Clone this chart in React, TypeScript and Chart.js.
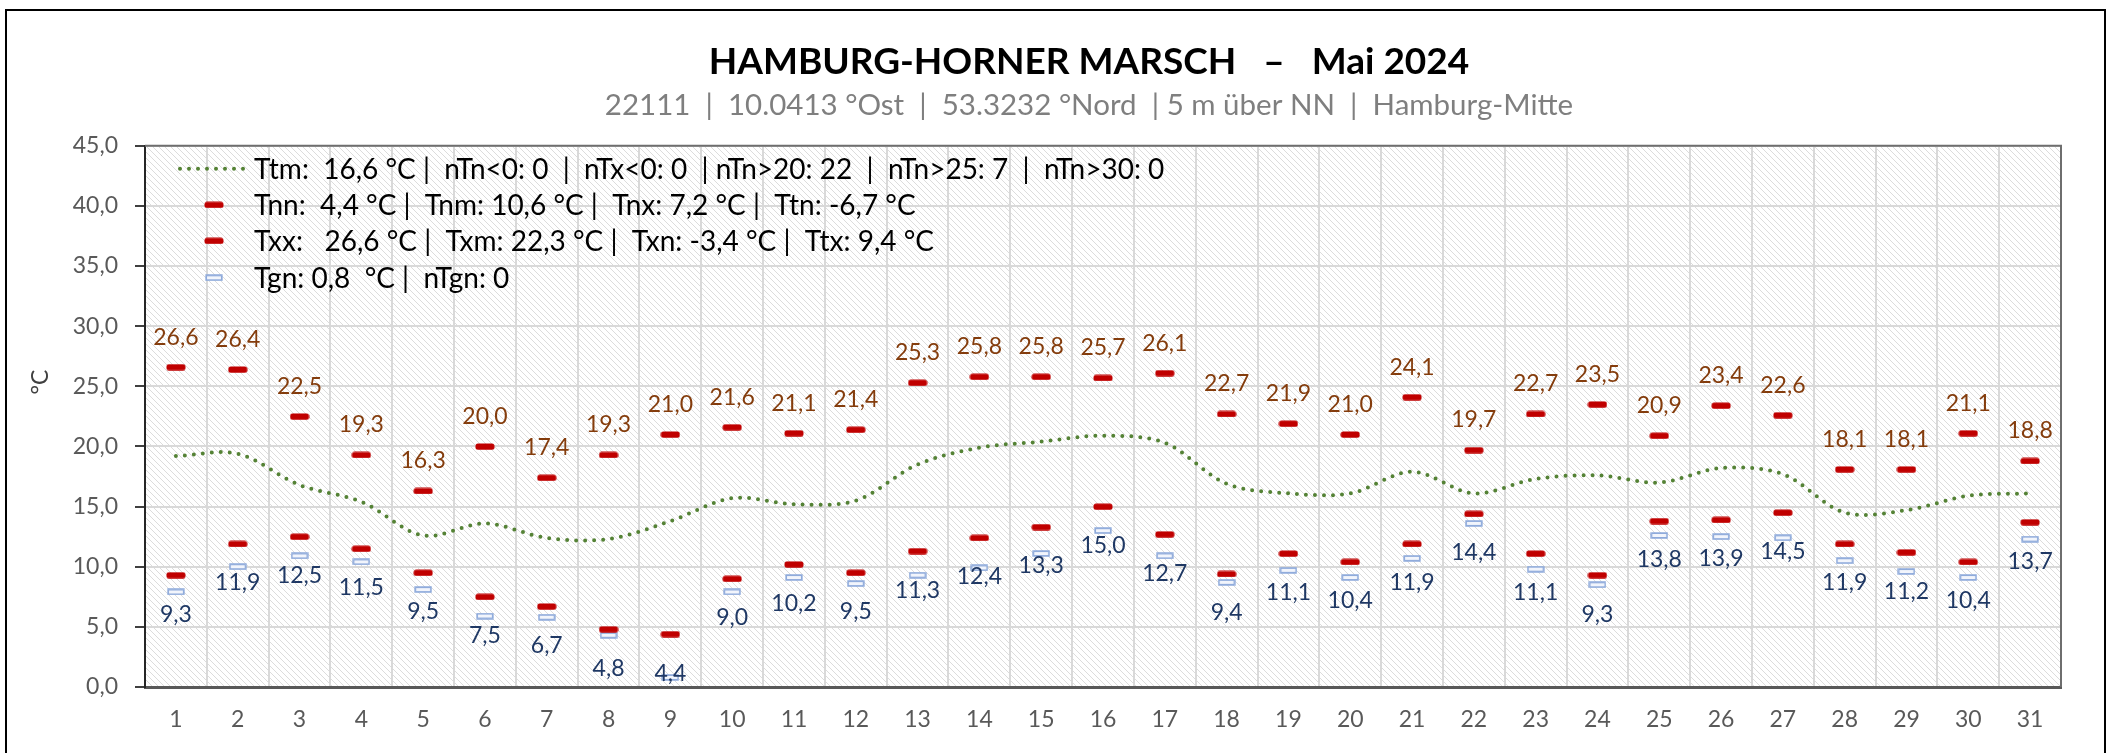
import React, { useEffect, useRef } from 'react';
import { Chart, registerables } from 'chart.js';

Chart.register(...registerables);

const days = ['1', '2', '3', '4', '5', '6', '7', '8', '9', '10', '11', '12', '13', '14', '15', '16', '17', '18', '19', '20', '21', '22', '23', '24', '25', '26', '27', '28', '29', '30', '31'];

// daily mean temperature (Ttm)
const ttm = [19.2, 19.4, 16.8, 15.4, 12.6, 13.6, 12.4, 12.3, 13.8, 15.7, 15.2, 15.5, 18.5, 19.9, 20.4, 20.9, 20.3, 16.9, 16.1, 16.1, 17.9, 16.1, 17.3, 17.6, 17.0, 18.2, 17.7, 14.5, 14.7, 15.9, 16.1];
// daily minimum temperature (Tn)
const tn = [9.3, 11.9, 12.5, 11.5, 9.5, 7.5, 6.7, 4.8, 4.4, 9.0, 10.2, 9.5, 11.3, 12.4, 13.3, 15.0, 12.7, 9.4, 11.1, 10.4, 11.9, 14.4, 11.1, 9.3, 13.8, 13.9, 14.5, 11.9, 11.2, 10.4, 13.7];
// daily maximum temperature (Tx)
const tx = [26.6, 26.4, 22.5, 19.3, 16.3, 20.0, 17.4, 19.3, 21.0, 21.6, 21.1, 21.4, 25.3, 25.8, 25.8, 25.7, 26.1, 22.7, 21.9, 21.0, 24.1, 19.7, 22.7, 23.5, 20.9, 23.4, 22.6, 18.1, 18.1, 21.1, 18.8];
// ground minimum temperature (Tg)
const tg = [7.9, 10.0, 10.9, 10.4, 8.1, 5.9, 5.8, 4.3, 0.8, 7.9, 9.1, 8.6, 9.3, 9.9, 11.1, 13.0, 10.9, 8.7, 9.7, 9.1, 10.7, 13.6, 9.8, 8.5, 12.6, 12.5, 12.4, 10.5, 9.6, 9.1, 12.3];

const yTicks = [0, 5, 10, 15, 20, 25, 30, 35, 40, 45];

const legendLabels = [
  'Ttm:  16,6 °C |  nTn<0: 0  |  nTx<0: 0  | nTn>20: 22  |  nTn>25: 7  |  nTn>30: 0',
  'Tnn:  4,4 °C |  Tnm: 10,6 °C |  Tnx: 7,2 °C |  Ttn: -6,7 °C',
  'Txx:   26,6 °C |  Txm: 22,3 °C |  Txn: -3,4 °C |  Ttx: 9,4 °C',
  'Tgn: 0,8  °C |  nTgn: 0',
];

const titleText = 'HAMBURG-HORNER MARSCH   –   Mai 2024';
const subtitleText = '22111  |  10.0413 °Ost  |  53.3232 °Nord  | 5 m über NN  |  Hamburg-Mitte';
const yUnit = '°C';

const FONT = 'Lato';
const fmt = (v: number) => v.toFixed(1).replace('.', ',');

function makeRedDash(): HTMLCanvasElement {
  const c = document.createElement('canvas');
  c.width = 20;
  c.height = 7;
  const g = c.getContext('2d')!;
  g.fillStyle = '#C00000';
  g.beginPath();
  (g as any).roundRect(0.5, 0.5, 19, 6.2, 2.5);
  g.fill();
  return c;
}

function makeBlueDash(): HTMLCanvasElement {
  const c = document.createElement('canvas');
  c.width = 18;
  c.height = 7;
  const g = c.getContext('2d')!;
  g.fillStyle = '#F2F5FC';
  g.strokeStyle = '#8EAADB';
  g.lineWidth = 1.7;
  g.beginPath();
  g.rect(1.2, 1.2, 15.6, 4.6);
  g.fill();
  g.stroke();
  return c;
}

function makeHatch(ctx: CanvasRenderingContext2D): CanvasPattern | string {
  const s = 6;
  const c = document.createElement('canvas');
  c.width = s;
  c.height = s;
  const g = c.getContext('2d')!;
  g.fillStyle = '#FFFFFF';
  g.fillRect(0, 0, s, s);
  g.strokeStyle = '#DCDCDC';
  g.lineWidth = 1;
  g.beginPath();
  g.moveTo(-1, -1);
  g.lineTo(s + 1, s + 1);
  g.moveTo(-1, s - 1);
  g.lineTo(1, s + 1);
  g.moveTo(s - 1, -1);
  g.lineTo(s + 1, 1);
  g.stroke();
  return ctx.createPattern(c, 'repeat') || '#FFFFFF';
}

export default function App() {
  const ref = useRef<HTMLCanvasElement | null>(null);

  useEffect(() => {
    const canvas = ref.current;
    if (!canvas) return;
    const redDash = makeRedDash();
    const blueDash = makeBlueDash();

    const background = {
      id: 'background',
      beforeDraw(chart: any) {
        const { ctx, chartArea: a } = chart;
        ctx.save();
        ctx.fillStyle = '#FFFFFF';
        ctx.fillRect(0, 0, chart.width, chart.height);
        ctx.fillStyle = makeHatch(ctx);
        ctx.fillRect(a.left, a.top, a.right - a.left, a.bottom - a.top);
        ctx.restore();
      },
    };

    const decorations = {
      id: 'decorations',
      afterDraw(chart: any) {
        const { ctx, chartArea: a } = chart;
        ctx.save();
        // plot area top / right border
        ctx.strokeStyle = '#6E6E6E';
        ctx.lineWidth = 2;
        ctx.beginPath();
        ctx.moveTo(a.left, a.top);
        ctx.lineTo(a.right, a.top);
        ctx.lineTo(a.right, a.bottom);
        ctx.stroke();
        // outer frame
        ctx.strokeStyle = '#000000';
        ctx.lineWidth = 2;
        ctx.strokeRect(6, 10, chart.width - 16, chart.height + 20);
        // y unit
        ctx.translate(41, 382);
        ctx.rotate(-Math.PI / 2);
        ctx.fillStyle = '#404040';
        ctx.font = `23px ${FONT}`;
        ctx.textAlign = 'center';
        ctx.textBaseline = 'middle';
        ctx.fillText(yUnit, 0, 0);
        ctx.restore();
      },
    };

    const dataLabels = {
      id: 'dataLabels',
      afterDatasetsDraw(chart: any) {
        const { ctx } = chart;
        ctx.save();
        ctx.font = `23px ${FONT}`;
        ctx.textAlign = 'center';
        ctx.textBaseline = 'middle';
        const metaTx = chart.getDatasetMeta(2);
        metaTx.data.forEach((pt: any, i: number) => {
          ctx.fillStyle = '#843C0C';
          ctx.fillText(fmt(tx[i]), pt.x, pt.y - 30);
        });
        const metaTn = chart.getDatasetMeta(1);
        metaTn.data.forEach((pt: any, i: number) => {
          ctx.fillStyle = '#1F3864';
          ctx.fillText(fmt(tn[i]), pt.x, pt.y + 39);
        });
        ctx.restore();
      },
    };

    const innerLegend = {
      id: 'innerLegend',
      afterDatasetsDraw(chart: any) {
        const { ctx, chartArea: a } = chart;
        const rows = [a.top + 23, a.top + 59, a.top + 95, a.top + 132];
        const markerX = a.left + 69;
        const textX = a.left + 109;
        ctx.save();
        chart.data.datasets.forEach((ds: any, i: number) => {
          const y = rows[i];
          if (i === 0) {
            ctx.save();
            ctx.strokeStyle = ds.borderColor;
            ctx.lineWidth = ds.borderWidth;
            ctx.lineCap = 'round';
            ctx.setLineDash(ds.borderDash);
            ctx.beginPath();
            ctx.moveTo(a.left + 35, y);
            ctx.lineTo(a.left + 104, y);
            ctx.stroke();
            ctx.restore();
          } else {
            const img = ds.pointStyle as HTMLCanvasElement;
            ctx.drawImage(img, markerX - img.width / 2, y - img.height / 2);
          }
          ctx.fillStyle = '#000000';
          ctx.font = `28px ${FONT}`;
          ctx.textAlign = 'left';
          ctx.textBaseline = 'middle';
          ctx.fillText(ds.label, textX, y + 1);
        });
        ctx.restore();
      },
    };

    const chart = new Chart(canvas, {
      type: 'line',
      data: {
        labels: days,
        datasets: [
          {
            label: legendLabels[0],
            data: ttm,
            borderColor: '#548235',
            borderWidth: 4,
            borderDash: [0, 9],
            borderCapStyle: 'round',
            tension: 0.33,
            pointRadius: 0,
            fill: false,
          },
          {
            label: legendLabels[1],
            data: tn,
            showLine: false,
            pointStyle: redDash,
            pointRadius: 6,
          },
          {
            label: legendLabels[2],
            data: tx,
            showLine: false,
            pointStyle: redDash,
            pointRadius: 6,
          },
          {
            label: legendLabels[3],
            data: tg,
            showLine: false,
            pointStyle: blueDash,
            pointRadius: 6,
          },
        ] as any,
      },
      options: {
        animation: false,
        responsive: false,
        events: [],
        layout: { padding: { top: 10, left: 63, right: 0, bottom: 0 } },
        plugins: {
          legend: { display: false },
          tooltip: { enabled: false },
          title: {
            display: true,
            text: titleText,
            color: '#000000',
            font: { family: FONT, size: 37, weight: 'bold', lineHeight: 1.2 },
            padding: { top: 30, bottom: 0 },
          },
          subtitle: {
            display: true,
            text: subtitleText,
            color: '#7F7F7F',
            font: { family: FONT, size: 29.5, lineHeight: 1.2 },
            padding: { top: 3, bottom: 23 },
          },
        },
        scales: {
          x: {
            type: 'category',
            offset: true,
            grid: { offset: true, color: '#D9D9D9', lineWidth: 2, drawTicks: false },
            border: { color: '#595959', width: 3 },
            ticks: { color: '#595959', font: { family: FONT, size: 23 }, padding: 19, maxRotation: 0, autoSkip: false },
            afterFit: (s: any) => { s.height = 66; },
          },
          y: {
            min: 0,
            max: 45,
            afterBuildTicks: (s: any) => { s.ticks = yTicks.map((v) => ({ value: v })); },
            grid: { color: '#D9D9D9', lineWidth: 2, tickLength: 10, tickColor: '#404040', tickWidth: 2 },
            border: { color: '#262626', width: 2 },
            ticks: {
              color: '#595959',
              font: { family: FONT, size: 23 },
              padding: 17,
              callback: (v: any) => fmt(Number(v)),
            },
            afterFit: (s: any) => { s.width = 82; },
          },
          yRight: {
            position: 'right',
            display: true,
            grid: { display: false, drawOnChartArea: false, drawTicks: false },
            border: { display: false },
            ticks: { display: false },
            afterFit: (s: any) => { s.width = 54; },
          },
        },
      } as any,
      plugins: [background, dataLabels, innerLegend, decorations],
    });

    return () => chart.destroy();
  }, []);

  return (
    <div style={{ position: 'absolute', left: 0, top: 0, width: 2115, height: 753, background: '#FFFFFF' }}>
      <canvas ref={ref} width={2115} height={753} style={{ display: 'block', width: 2115, height: 753 }} />
    </div>
  );
}
